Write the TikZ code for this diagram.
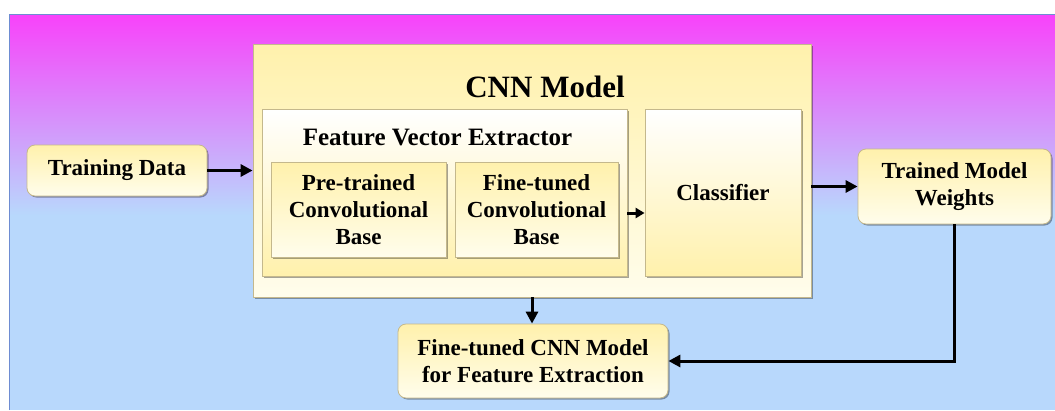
\documentclass[tikz,border=0pt]{standalone}
\usepackage{fontspec}
\setmainfont{Liberation Serif}
\usetikzlibrary{arrows.meta,shadows}
\definecolor{mag}{RGB}{248,66,250}
\definecolor{skyb}{RGB}{184,216,252}
\definecolor{yel}{RGB}{255,241,172}
\definecolor{crm}{RGB}{255,253,236}
\definecolor{edgec}{RGB}{196,184,140}
\definecolor{bgedge}{RGB}{110,140,210}
\begin{document}
\begin{tikzpicture}[x=1pt,y=-1pt,
  box/.style={rectangle, inner sep=0pt, draw=edgec, line width=0.8pt,
    drop shadow={shadow xshift=1.5pt, shadow yshift=-1.5pt, fill=black, opacity=0.35}},
  rbox/.style={box, rounded corners=8pt},
  lbl/.style={font=\bfseries\fontsize{23}{27}\selectfont, align=center, text=black},
  arr/.style={line width=3pt, -{Triangle[length=12pt,width=12pt]}},
  sarr/.style={line width=3pt, -{Triangle[length=9pt,width=10pt]}}]
\useasboundingbox (0,0) rectangle (1055,410);
% background
\fill[white] (0,0) rectangle (1055,410);
\fill[skyb] (9,14) rectangle (1055,410);
\shade[top color=mag, bottom color=skyb] (9,14) rectangle (1055,215);
\draw[bgedge, line width=1pt] (9,410) -- (9,14) -- (1055,14);
% CNN model
\node[box, minimum width=558pt, minimum height=253pt, top color=yel, bottom color=crm] (cnn) at (532,170.5) {};
\node[anchor=base, font=\bfseries\fontsize{31}{36}\selectfont] (cnnt) at (545,97) {CNN Model};
% feature vector extractor
\node[box, minimum width=365pt, minimum height=167pt, top color=white, bottom color=yel] (fve) at (444.5,192.5) {};
\node[anchor=base, font=\bfseries\fontsize{25}{30}\selectfont] (fvet) at (437.5,145) {Feature Vector Extractor};
\node[box, lbl, minimum width=175pt, minimum height=95pt, top color=yel, bottom color=crm] (pre) at (358.5,209.5) {Pre-trained\\Convolutional\\Base};
\node[box, lbl, minimum width=163pt, minimum height=95pt, top color=yel, bottom color=crm] (fine) at (536.5,209.5) {Fine-tuned\\Convolutional\\Base};
% classifier
\node[box, lbl, minimum width=156pt, minimum height=167pt, top color=white, bottom color=yel] (cls) at (723,192.5) {Classifier};
% rounded boxes
\node[rbox, lbl, minimum width=180pt, minimum height=51pt, top color=yel, bottom color=crm] (td) at (117,170.5) {Training Data};
\node[rbox, lbl, minimum width=193pt, minimum height=75pt, top color=yel, bottom color=crm] (tw) at (954.5,186.5) {Trained Model\\Weights};
\node[rbox, lbl, minimum width=270pt, minimum height=74pt, top color=yel, bottom color=crm] (ft) at (533,361) {Fine-tuned CNN Model\\for Feature Extraction};
% arrows
\draw[arr] (td.east) -- (cnn.west |- td.east);
\draw[arr] (cnn.east |- tw.west) -- (tw.west);
\draw[sarr] ([yshift=-3.5pt]fine.east -| fve.east) -- ([yshift=-3.5pt]fine.east -| cls.west);
\draw[arr] (cnn.south) -- (cnn.south |- ft.north);
\draw[arr] (tw.south) |- (ft.east);
\end{tikzpicture}
\end{document}
